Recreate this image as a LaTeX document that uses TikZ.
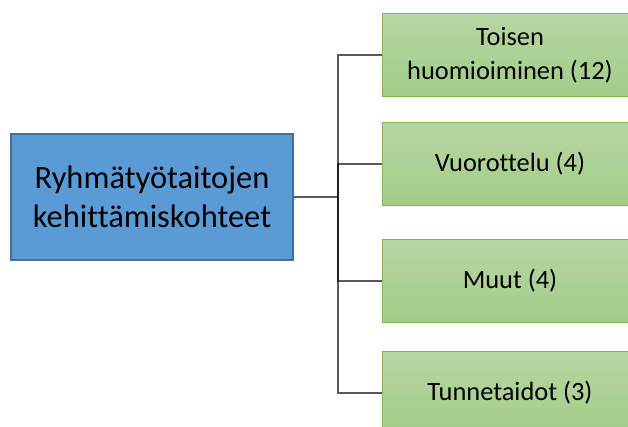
\documentclass[tikz,border=0pt]{standalone}
\usepackage{fontspec}
\setmainfont[Ligatures=NoCommon]{Carlito}
\definecolor{bluefill}{HTML}{5B9BD5}
\definecolor{blueline}{HTML}{41719C}
\definecolor{greentop}{HTML}{B6D6A3}
\definecolor{greenbot}{HTML}{A3CC88}
\definecolor{greenline}{HTML}{7CBA58}
\begin{document}
\begin{tikzpicture}[x=1pt,y=-1pt,
  rootbox/.style={draw=blueline, line width=2pt, fill=bluefill, minimum width=282pt, minimum height=126pt, inner sep=0pt, align=center, font=\fontsize{32.5}{39}\selectfont},
  leafbox/.style={draw=greenline, line width=1.5pt, top color=greentop, bottom color=greenbot, minimum width=255pt, minimum height=83pt, inner sep=0pt, align=center, font=\fontsize{26.4}{34}\selectfont},
  conn/.style={draw=black, opacity=0.65, line width=1.5pt}]
\useasboundingbox (0,0) rectangle (628,426);
\clip (0,0) rectangle (628,426);
\fill[white] (0,0) rectangle (628,426);
\coordinate (trunk) at (338,197);
\node[rootbox] (root) at (152,197) {Ryhmätyötaitojen\\kehittämiskohteet};
\node[leafbox] (c1) at (510,55) {Toisen\\huomioiminen (12)};
\node[leafbox] (c2) at (510,164) {Vuorottelu (4)};
\node[leafbox] (c3) at (510,281) {Muut (4)};
\node[leafbox] (c4) at (510,393) {Tunnetaidot (3)};
\draw[conn] (root.east) -- (trunk);
\foreach \c in {c1,c2,c3,c4}{
  \draw[conn] (trunk) |- (\c.west);
}
\end{tikzpicture}
\end{document}
